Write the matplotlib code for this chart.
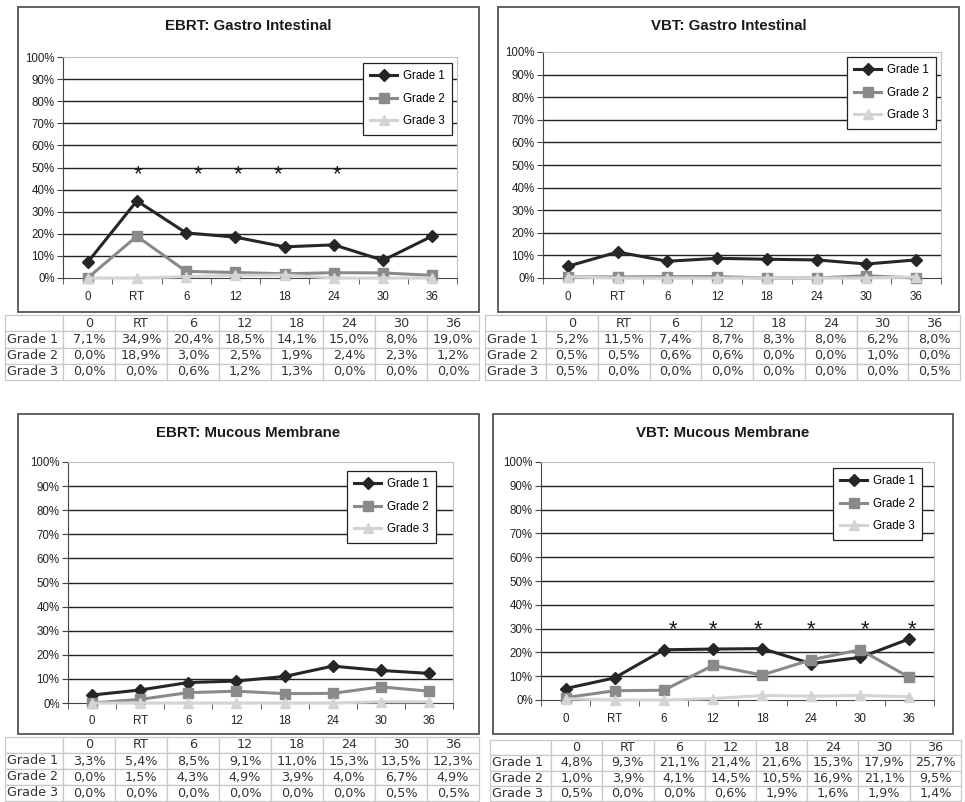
import numpy as np
import matplotlib
matplotlib.use("Agg")
import matplotlib.pyplot as plt
from matplotlib.patches import Rectangle

# follow-up categories (months)
categories = ['0', 'RT', '6', '12', '18', '24', '30', '36']
grades = ['Grade 1', 'Grade 2', 'Grade 3']

ebrt_gi_g1 = [7.1, 34.9, 20.4, 18.5, 14.1, 15.0, 8.0, 19.0]
ebrt_gi_g2 = [0.0, 18.9, 3.0, 2.5, 1.9, 2.4, 2.3, 1.2]
ebrt_gi_g3 = [0.0, 0.0, 0.6, 1.2, 1.3, 0.0, 0.0, 0.0]

vbt_gi_g1 = [5.2, 11.5, 7.4, 8.7, 8.3, 8.0, 6.2, 8.0]
vbt_gi_g2 = [0.5, 0.5, 0.6, 0.6, 0.0, 0.0, 1.0, 0.0]
vbt_gi_g3 = [0.5, 0.0, 0.0, 0.0, 0.0, 0.0, 0.0, 0.5]

ebrt_mm_g1 = [3.3, 5.4, 8.5, 9.1, 11.0, 15.3, 13.5, 12.3]
ebrt_mm_g2 = [0.0, 1.5, 4.3, 4.9, 3.9, 4.0, 6.7, 4.9]
ebrt_mm_g3 = [0.0, 0.0, 0.0, 0.0, 0.0, 0.0, 0.5, 0.5]

vbt_mm_g1 = [4.8, 9.3, 21.1, 21.4, 21.6, 15.3, 17.9, 25.7]
vbt_mm_g2 = [1.0, 3.9, 4.1, 14.5, 10.5, 16.9, 21.1, 9.5]
vbt_mm_g3 = [0.5, 0.0, 0.0, 0.6, 1.9, 1.6, 1.9, 1.4]

# significance asterisks (category position, height in %)
ebrt_gi_stars = [1.02, 2.24, 3.05, 3.86, 5.06]
ebrt_gi_star_y = 50
vbt_mm_stars = [2.18, 3.0, 3.92, 5.0, 6.1, 7.05]
vbt_mm_star_y = 32.8

W, H = 965, 802
fig = plt.figure(figsize=(W / 100, H / 100), dpi=100)
fig.patch.set_facecolor('white')


def fx(px):
    return px / W


def fy(py):
    return 1 - py / H


def fmt(v):
    return ('%.1f' % v).replace('.', ',') + '%'


styles = [
    dict(color='#262626', marker='D', ms=6),
    dict(color='#8a8a8a', marker='s', ms=7),
    dict(color='#d4d4d4', marker='^', ms=7.5),
]


def panel(box, axr, leg, tab, col0, title, series, stars=None, star_y=None):
    # outer chart frame
    fig.patches.append(Rectangle((fx(box[0]), fy(box[3])), (box[2] - box[0]) / W,
                                 (box[3] - box[1]) / H, transform=fig.transFigure,
                                 fill=False, edgecolor='#555555', lw=1.3))
    fig.text(fx((box[0] + box[2]) / 2), fy(box[1] + 19), title, ha='center', va='center',
             fontsize=10.8, fontweight='bold', family='Liberation Sans', color='#1a1a1a')

    ax = fig.add_axes([fx(axr[0]), fy(axr[3]), (axr[2] - axr[0]) / W, (axr[3] - axr[1]) / H])
    x = np.arange(len(categories))
    for name, vals, st in zip(grades, series, styles):
        ax.plot(x, vals, color=st['color'], lw=2.2, marker=st['marker'], ms=st['ms'],
                mec=st['color'], mfc=st['color'], label=name, clip_on=False, zorder=3)
    ax.set_xlim(-0.5, len(categories) - 0.5)
    ax.set_ylim(0, 100)
    ax.set_yticks(range(0, 101, 10))
    ax.set_yticklabels(['%d%%' % v for v in range(0, 101, 10)], family='Liberation Sans')
    for v in range(10, 100, 10):
        ax.axhline(v, color='#222222', lw=1.0, zorder=1)
    ax.set_xticks(x)
    ax.set_xticklabels(categories, family='Liberation Sans')
    ax.set_xticks(np.arange(-0.5, len(categories)), minor=True)
    ax.tick_params(axis='x', which='major', length=0, labelsize=8.3, pad=9, colors='#222222')
    ax.tick_params(axis='x', which='minor', length=4, color='#444444')
    ax.tick_params(axis='y', length=4, color='#444444', labelsize=8.3, pad=2, colors='#222222')
    ax.spines['left'].set_color('#444444')
    ax.spines['bottom'].set_color('#444444')
    ax.spines['top'].set_color('#c0c0c0')
    ax.spines['right'].set_color('#c0c0c0')

    if stars:
        for s in stars:
            ax.annotate('*', (s, star_y), xytext=(0, -9.3), textcoords='offset points',
                        ha='center', va='baseline', fontsize=16,
                        family='Liberation Sans', color='#1a1a1a')

    lg = ax.legend(loc='upper left', bbox_to_anchor=(fx(leg[0]), fy(leg[1])),
                   bbox_transform=fig.transFigure, fancybox=False, framealpha=1,
                   edgecolor='#222222', prop={'family': 'Liberation Sans', 'size': 8.3},
                   handlelength=2.3, labelspacing=0.9, borderpad=0.65, borderaxespad=0,
                   handletextpad=0.5)
    lg.get_frame().set_linewidth(0.9)

    # data table under the chart
    tax = fig.add_axes([fx(tab[0]), fy(tab[3]), (tab[2] - tab[0]) / W, (tab[3] - tab[1]) / H])
    tax.axis('off')
    rows = [[''] + categories]
    for name, vals in zip(grades, series):
        rows.append([name] + [fmt(v) for v in vals])
    w0 = (col0 - tab[0]) / (tab[2] - tab[0])
    wi = (1 - w0) / len(categories)
    t = tax.table(cellText=rows, cellLoc='center', bbox=[0, 0, 1, 1],
                  colWidths=[w0] + [wi] * len(categories))
    t.auto_set_font_size(False)
    t.set_fontsize(9.2)
    for (r, c), cell in t.get_celld().items():
        cell.set_edgecolor('#c8c8c8')
        cell.set_linewidth(0.9)
        cell.get_text().set_color('#333333')
        if c == 0:
            cell._loc = 'left'
            cell.PAD = 0.03
            cell.get_text().set_horizontalalignment('left')


panel((18, 7, 479, 312), (63, 57, 457, 278), (363, 63), (5, 315, 479, 380), 63,
      'EBRT: Gastro Intestinal', [ebrt_gi_g1, ebrt_gi_g2, ebrt_gi_g3],
      ebrt_gi_stars, ebrt_gi_star_y)
panel((498, 7, 959, 312), (543, 52, 941, 278), (847, 57), (485, 315, 960, 380), 546,
      'VBT: Gastro Intestinal', [vbt_gi_g1, vbt_gi_g2, vbt_gi_g3])
panel((18, 414, 479, 734), (68, 462, 453, 703), (347, 471), (5, 737, 479, 801), 63,
      'EBRT: Mucous Membrane', [ebrt_mm_g1, ebrt_mm_g2, ebrt_mm_g3])
panel((493, 414, 953, 734), (541, 462, 934, 700), (833, 468), (490, 740, 961, 801), 551,
      'VBT: Mucous Membrane', [vbt_mm_g1, vbt_mm_g2, vbt_mm_g3],
      vbt_mm_stars, vbt_mm_star_y)

fig.savefig('out.png', dpi=100, facecolor='white')
